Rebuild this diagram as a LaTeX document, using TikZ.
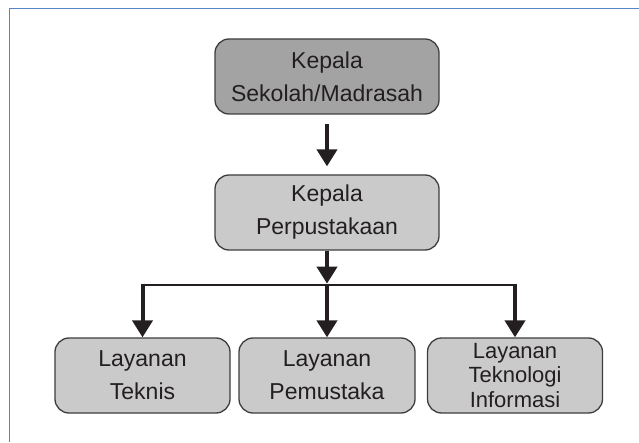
\documentclass[tikz,border=0pt]{standalone}
\usepackage{fontspec}
\setmainfont{Liberation Sans}
\usetikzlibrary{arrows.meta}

\definecolor{frameblue}{RGB}{88,132,196}
\definecolor{headgray}{RGB}{163,163,163}
\definecolor{boxgray}{RGB}{202,202,202}
\definecolor{edgegray}{RGB}{62,62,62}
\definecolor{inkblack}{RGB}{35,31,32}

\begin{document}
\begin{tikzpicture}[x=1pt,y=1pt,
    box/.style={draw=edgegray, line width=1.3pt, rounded corners=14pt,
        fill=boxgray, align=center, text=inkblack, inner sep=0pt,
        font=\fontsize{23}{33}\selectfont},
    headbox/.style={box, fill=headgray},
    flowarrow/.style={draw=inkblack, line width=4pt,
        -{Triangle[width=20pt,length=17pt]}}]

    % --- Page and frame ---
    \useasboundingbox (0,0) rectangle (639,442);
    \fill[white] (0,0) rectangle (639,442);
    \draw[frameblue, line width=1.6pt] (9.5,0) |- (639,433.5);

    % --- Boxes ---
    % Head of the school
    \node[headbox, minimum width=224pt, minimum height=75pt]
        (kepsek) at (327,365.5) {Kepala\\Sekolah/Madrasah};

    % Head of the library
    \node[box, minimum width=224pt, minimum height=75pt]
        (kaperpus) at (327,229.5) {Kepala\\Perpustakaan};

    % Three services
    \node[box, minimum width=175pt, minimum height=75pt]
        (teknis) at (142.5,66.5) {Layanan\\Teknis};
    \node[box, minimum width=176pt, minimum height=75pt]
        (pemustaka) at (327,66.5) {Layanan\\Pemustaka};
    \node[box, minimum width=175pt, minimum height=75pt,
        font=\fontsize{22}{24.5}\selectfont]
        (ti) at (515,66.5) {Layanan\\Teknologi\\Informasi};

    % --- Connectors ---
    \draw[flowarrow, shorten <=9pt, shorten >=8pt] (kepsek) -- (kaperpus);

    % Bus line under the head of the library
    \coordinate (bus) at ([yshift=-34pt]kaperpus.south);
    \draw[flowarrow, shorten >=1pt] (kaperpus) -- (bus);
    \draw[inkblack, line width=2pt] (teknis.north |- bus) -- (ti.north |- bus);

    \foreach \n in {teknis,pemustaka,ti}
        \draw[flowarrow] ([yshift=1pt]\n.north |- bus) -- (\n.north);

\end{tikzpicture}
\end{document}
